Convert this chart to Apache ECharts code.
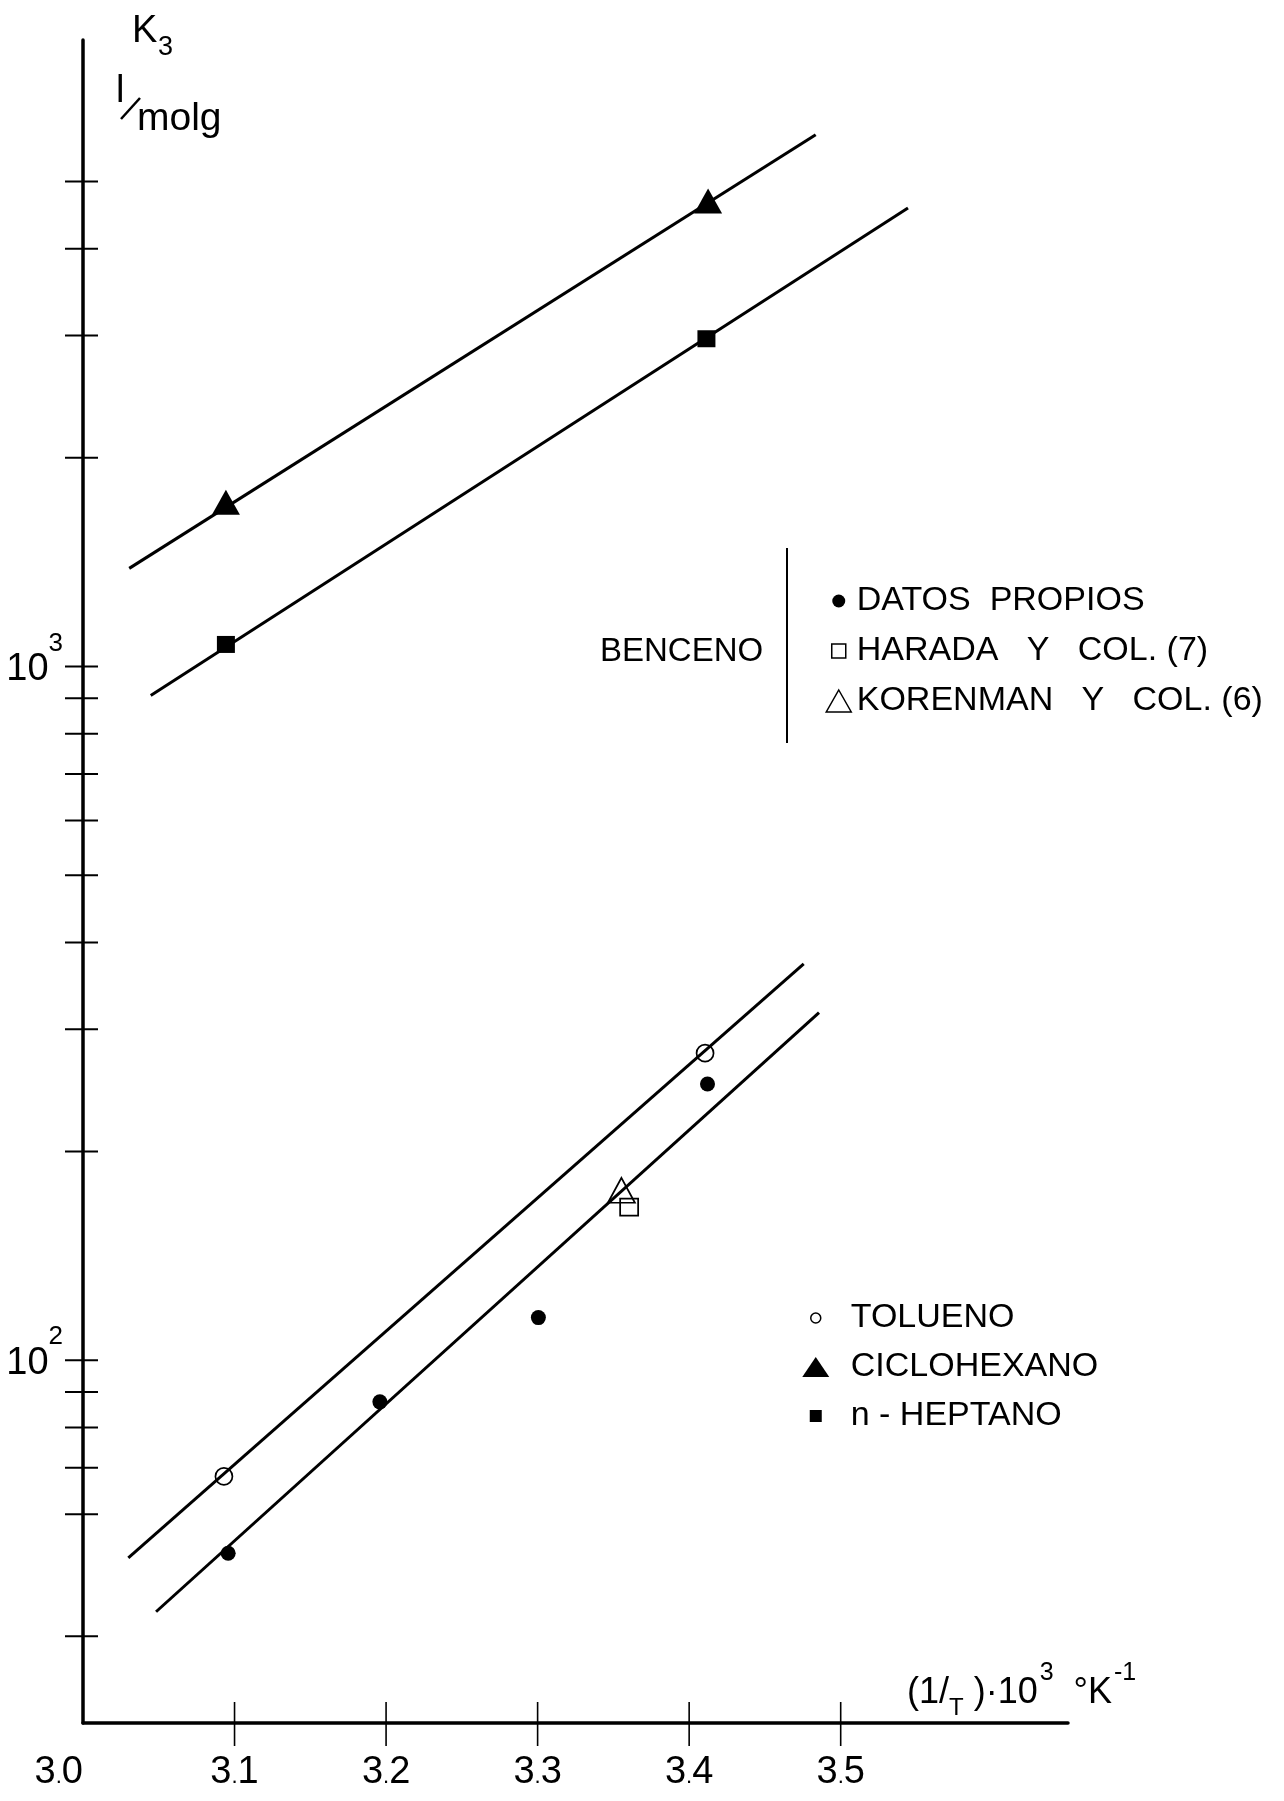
<!DOCTYPE html>
<html>
<head>
<meta charset="utf-8">
<script src="https://cdn.jsdelivr.net/npm/echarts@6/dist/echarts.min.js"></script>
<style>
  html, body { margin: 0; padding: 0; background: #fff; }
  #chart { width: 1284px; height: 1801px; }
</style>
</head>
<body>
<div id="chart"></div>
<script>
// K3 (l/mol·g) against (1/T)·10^3 (°K^-1), log scale on K3.

// Axis ticks and labels
const xLabelValues = [3.0, 3.1, 3.2, 3.3, 3.4, 3.5];
const xTicks = [3.1, 3.2, 3.3, 3.4, 3.5];
const yTicks = [40, 60, 70, 80, 90, 100, 200, 300, 400, 500, 600, 700, 800, 900,
                1000, 2000, 3000, 4000, 5000];

// Measured points [1/T·10^3, K3]
const bencenoPropios  = [[3.0958, 52.7], [3.1959, 87.1], [3.3005, 115.2], [3.4121, 250.2]];
const bencenoHarada   = [[3.3604, 166.2]];
const bencenoKorenman = [[3.3553, 175.8]];
const tolueno         = [[3.0930, 68.0], [3.4105, 277.1]];
const ciclohexano     = [[3.0943, 1725], [3.4125, 4690]];
const heptano         = [[3.0943, 1076], [3.4114, 2968]];

// Fitted straight lines (end points)
const rectaCiclohexano = [[3.0305, 1385], [3.4835, 5842]];
const rectaHeptano     = [[3.0447, 908], [3.5444, 4580]];
const rectaTolueno     = [[3.0299, 51.9], [3.4756, 372.6]];
const rectaBenceno     = [[3.0482, 43.4], [3.4857, 317.1]];

const X_MIN = 3.0, X_MAX = 3.65, Y_MIN = 30, Y_MAX = 8000;
const INK = '#000';
const SANS = '"Liberation Sans", Arial, sans-serif';

const chart = echarts.init(document.getElementById('chart'), null, { renderer: 'canvas' });

function fitLine(name, data) {
  return {
    type: 'line', name: name, data: data, z: 2, silent: true,
    showSymbol: false, symbol: 'none',
    lineStyle: { color: INK, width: 3 }
  };
}

function marks(name, data, symbol, size, filled) {
  return {
    type: 'scatter', name: name, data: data, z: 4, silent: true,
    symbol: symbol, symbolSize: size,
    itemStyle: filled
      ? { color: INK, borderWidth: 0, opacity: 1 }
      : { color: 'rgba(0,0,0,0)', borderColor: INK, borderWidth: 1.7, opacity: 1 }
  };
}

const legendText = { fontSize: 34, fontFamily: SANS, color: INK, lineHeight: 36 };

const option = {
  animation: false,
  backgroundColor: '#fff',
  grid: { left: 83, top: 40, width: 985, height: 1683, outerBoundsMode: 'none' },
  xAxis: {
    type: 'value', min: X_MIN, max: X_MAX, interval: 0.1,
    axisLine: { show: true, onZero: false, lineStyle: { color: INK, width: 3.5 } },
    axisTick: { show: false },
    splitLine: { show: false },
    axisLabel: {
      margin: 30, color: INK,
      alignMinLabel: 'right',
      formatter: function (v) {
        const hit = xLabelValues.find(t => Math.abs(t - v) < 1e-6);
        if (hit === undefined) return '';
        const parts = hit.toFixed(1).split('.');
        return '{d|' + parts[0] + '}{p|.}{d|' + parts[1] + '}';
      },
      rich: {
        d: { fontSize: 38, lineHeight: 40, fontFamily: SANS, color: INK },
        // small decimal point, pushed down onto the digit baseline
        p: { fontSize: 22, lineHeight: 22, fontFamily: SANS, color: INK, padding: [7, 0, 0, 0] }
      }
    }
  },
  yAxis: {
    type: 'log', logBase: 10, min: Y_MIN, max: Y_MAX,
    axisLine: { show: true, lineStyle: { color: INK, width: 3.5 } },
    axisTick: { show: false },
    splitLine: { show: false },
    minorTick: { show: false },
    axisLabel: {
      margin: 20, color: INK,
      formatter: function (v) {
        const e = Math.round(Math.log10(v));
        if (Math.abs(Math.log10(v) - e) > 1e-6) return '';
        return '{b|10}{s|' + e + '}';
      },
      rich: {
        b: { fontSize: 38, lineHeight: 38, fontFamily: SANS, color: INK, padding: [6, 0, 0, 0] },
        s: { fontSize: 26, lineHeight: 26, fontFamily: SANS, color: INK, padding: [0, 0, 46, 0] }
      }
    }
  },
  legend: [
    {
      orient: 'vertical', left: 825, top: 583, padding: 0,
      itemWidth: 26, itemHeight: 26, itemGap: 14, selectedMode: false,
      textStyle: legendText,
      data: [
        { name: 'DATOS  PROPIOS',
          icon: 'path://M0,0M26,26M13,6.5A6.5,6.5,0,1,1,13,19.5A6.5,6.5,0,1,1,13,6.5Z' },
        { name: 'HARADA   Y   COL. (7)',
          icon: 'path://M0,0M26,26M6,6L20,6L20,20L6,20Z', itemStyle: { borderWidth: 1.5 } },
        { name: 'KORENMAN   Y   COL. (6)',
          icon: 'path://M0,0M26,26M13,2L25.5,24L0.5,24Z', itemStyle: { borderWidth: 1.5 } }
      ]
    },
    {
      orient: 'vertical', left: 801, top: 1300, padding: 0,
      itemWidth: 44, itemHeight: 26, itemGap: 13, selectedMode: false,
      textStyle: legendText,
      data: [
        { name: 'TOLUENO',
          icon: 'path://M0,0M44,26M14,8A5,5,0,1,1,14,18A5,5,0,1,1,14,8Z', itemStyle: { borderWidth: 1.5 } },
        { name: 'CICLOHEXANO',
          icon: 'path://M0,0M44,26M14,3L27.5,23L0.5,23Z' },
        { name: 'n - HEPTANO',
          icon: 'path://M0,0M44,26M8,7L20,7L20,19L8,19Z' }
      ]
    }
  ],
  series: [
    fitLine('recta ciclohexano', rectaCiclohexano),
    fitLine('recta heptano', rectaHeptano),
    fitLine('recta tolueno', rectaTolueno),
    fitLine('recta benceno', rectaBenceno),

    marks('DATOS  PROPIOS', bencenoPropios, 'circle', 15, true),
    marks('HARADA   Y   COL. (7)', bencenoHarada, 'rect', [18, 17], false),
    marks('KORENMAN   Y   COL. (6)', bencenoKorenman, 'triangle', [27, 25], false),
    marks('TOLUENO', tolueno, 'circle', 17, false),
    marks('CICLOHEXANO', ciclohexano, 'triangle', [28, 25], true),
    marks('n - HEPTANO', heptano, 'rect', [18, 17], true),

    // y-axis ticks crossing the axis line
    {
      type: 'custom', name: 'marcas y', silent: true, clip: false, z: 3,
      data: yTicks.map(v => [X_MIN, v]),
      encode: { x: 0, y: 1 },
      renderItem: function (params, api) {
        const p = api.coord([api.value(0), api.value(1)]);
        return { type: 'line',
                 shape: { x1: p[0] - 18, y1: p[1], x2: p[0] + 15, y2: p[1] },
                 style: { stroke: INK, lineWidth: 2 } };
      }
    },
    // x-axis ticks crossing the axis line
    {
      type: 'custom', name: 'marcas x', silent: true, clip: false, z: 3,
      data: xTicks.map(v => [v, Y_MIN]),
      encode: { x: 0, y: 1 },
      renderItem: function (params, api) {
        const p = api.coord([api.value(0), api.value(1)]);
        return { type: 'line',
                 shape: { x1: p[0], y1: p[1] - 21, x2: p[0], y2: p[1] + 23 },
                 style: { stroke: INK, lineWidth: 1.6 } };
      }
    }
  ],
  graphic: [
    // y-axis title: K3  l/molg
    { type: 'text', x: 132, y: 32, silent: true,
      style: { text: 'K', fontSize: 38, fontFamily: SANS, fill: INK,
               align: 'left', textAlign: 'left', verticalAlign: 'middle', textVerticalAlign: 'middle' } },
    { type: 'text', x: 158, y: 48, silent: true,
      style: { text: '3', fontSize: 27, fontFamily: SANS, fill: INK,
               align: 'left', textAlign: 'left', verticalAlign: 'middle', textVerticalAlign: 'middle' } },
    { type: 'text', x: 116, y: 92, silent: true,
      style: { text: 'l', fontSize: 38, fontFamily: SANS, fill: INK,
               align: 'left', textAlign: 'left', verticalAlign: 'middle', textVerticalAlign: 'middle' } },
    { type: 'line', silent: true,
      shape: { x1: 121, y1: 119, x2: 140, y2: 98 },
      style: { stroke: INK, lineWidth: 2.5 } },
    { type: 'text', x: 137, y: 119, silent: true,
      style: { text: 'molg', fontSize: 39, fontFamily: SANS, fill: INK,
               align: 'left', textAlign: 'left', verticalAlign: 'middle', textVerticalAlign: 'middle' } },

    // x-axis title
    { type: 'text', x: 907, y: 1693, silent: true,
      style: {
        text: '{n|(}{n|1/}{sub|T}{n| )·10}{sup|3}{n|  °K}{sup|-1}',
        fill: INK, align: 'left', textAlign: 'left', verticalAlign: 'middle', textVerticalAlign: 'middle',
        rich: {
          n:   { fontSize: 36, lineHeight: 36, fontFamily: SANS, fill: INK },
          sub: { fontSize: 24, lineHeight: 24, fontFamily: SANS, fill: INK, padding: [30, 0, 0, 0] },
          sup: { fontSize: 25, lineHeight: 25, fontFamily: SANS, fill: INK, padding: [0, 0, 40, 2] }
        }
      } },

    // group label for the benzene legend
    { type: 'text', x: 600, y: 652, silent: true,
      style: { text: 'BENCENO', fontSize: 33, fontFamily: SANS, fill: INK,
               align: 'left', textAlign: 'left', verticalAlign: 'middle', textVerticalAlign: 'middle' } },
    { type: 'line', silent: true,
      shape: { x1: 787, y1: 548, x2: 787, y2: 743 },
      style: { stroke: INK, lineWidth: 2 } }
  ]
};

chart.setOption(option);
</script>
</body>
</html>
